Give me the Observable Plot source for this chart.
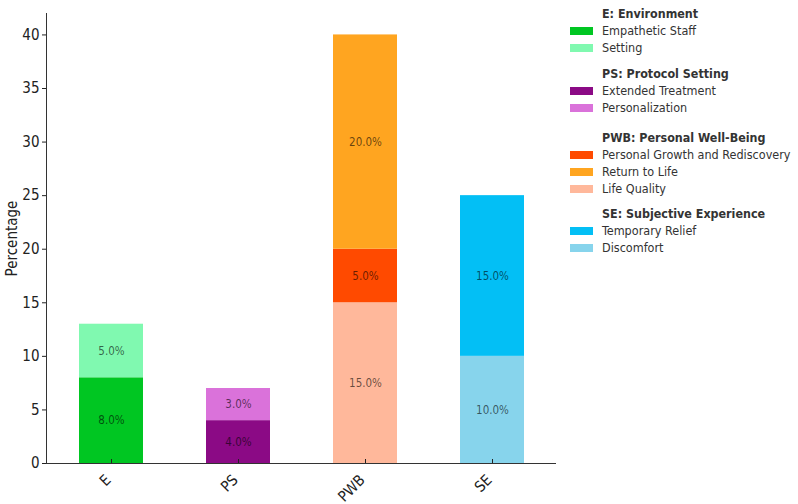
<!DOCTYPE html>
<html>
<head>
<meta charset="utf-8">
<script src="https://cdn.jsdelivr.net/npm/d3@7"></script>
<script src="https://cdn.jsdelivr.net/npm/@observablehq/plot@0.6"></script>
<style>
  html, body { margin: 0; padding: 0; background: #fff; }
  #wrap { position: relative; width: 798px; height: 504px; font-family: "DejaVu Sans Condensed", "DejaVu Sans", sans-serif; color: #333; }
  #chart { position: absolute; left: 0; top: 0; }
  .lg-title { position: absolute; font-weight: bold; font-size: 12.4px; line-height: 14px; white-space: nowrap; color: #333; }
  .lg-item { position: absolute; font-size: 12.5px; line-height: 14px; white-space: nowrap; color: #333; }
  .lg-sw { position: absolute; width: 23px; height: 8px; }
</style>
</head>
<body>
<div id="wrap"><div id="chart"></div><div id="legend"></div></div>
<script>
// ---- data ----
const categories = ["E", "PS", "PWB", "SE"];
const groupTitles = ["E: Environment", "PS: Protocol Setting", "PWB: Personal Well-Being", "SE: Subjective Experience"];
// stack order: bottom to top
const segCategory = ["E", "E", "PS", "PS", "PWB", "PWB", "PWB", "SE", "SE"];
const segNames = ["Empathetic Staff", "Setting", "Extended Treatment", "Personalization",
                  "Life Quality", "Personal Growth and Rediscovery", "Return to Life",
                  "Discomfort", "Temporary Relief"];
const segValues = [8, 5, 4, 3, 15, 5, 20, 10, 15];
const segColors = ["#00c622", "#80f9b0", "#8b0a85", "#da72da",
                   "#ffb89b", "#ff4a00", "#ffa520",
                   "#87d4ec", "#03bff5"];
// legend order per group
const legendOrder = [
  ["Empathetic Staff", "Setting"],
  ["Extended Treatment", "Personalization"],
  ["Personal Growth and Rediscovery", "Return to Life", "Life Quality"],
  ["Temporary Relief", "Discomfort"]
];
const yTicks = [0, 5, 10, 15, 20, 25, 30, 35, 40];

// ---- build stacked rows ----
const totals = {};
const rows = segNames.map((name, i) => {
  const cat = segCategory[i];
  const base = totals[cat] || 0;
  const top = base + segValues[i];
  totals[cat] = top;
  return { cat, name, value: segValues[i], y1: base, y2: top, mid: (base + top) / 2, color: segColors[i] };
});

const chart = Plot.plot({
  width: 560,
  height: 504,
  marginLeft: 46,
  marginRight: 4,
  marginTop: 13,
  marginBottom: 41,
  style: { fontFamily: "DejaVu Sans Condensed, DejaVu Sans, sans-serif", fontSize: "15px", color: "#222", background: "white" },
  x: { domain: categories, paddingInner: 0.5, paddingOuter: 0.25, label: null },
  y: { domain: [0, 42], label: "Percentage" },
  color: { type: "identity" },
  marks: [
    Plot.barY(rows, { x: "cat", y1: "y1", y2: "y2", fill: "color" }),
    Plot.text(rows, { x: "cat", y: "mid", text: d => d.value.toFixed(1) + "%", fill: "black", fillOpacity: 0.6, fontSize: 11.5 }),
    Plot.axisY({ ticks: yTicks, tickSize: 4, tickPadding: 3, fontSize: 15, label: "Percentage", labelAnchor: "center", labelArrow: "none", labelOffset: 40 }),
    Plot.axisX({ tickSize: -4, tickFormat: () => "", label: null }),
    Plot.axisX({ tickSize: 0, tickRotate: -45, tickPadding: 14, dx: -3, fontSize: 15, label: null }),
    Plot.ruleY([0], { stroke: "#333" }),
    Plot.frame({ anchor: "left", stroke: "#333" })
  ]
});
document.getElementById("chart").appendChild(chart);

// ---- legend ----
const legend = document.getElementById("legend");
const colorOf = Object.fromEntries(segNames.map((n, i) => [n, segColors[i]]));
const groupGaps = [0, 26, 30, 25];
let y = 7;
groupTitles.forEach((t, g) => {
  if (g > 0) y += groupGaps[g];
  const title = document.createElement("div");
  title.className = "lg-title";
  title.style.left = "602px";
  title.style.top = y + "px";
  title.textContent = t;
  legend.appendChild(title);
  legendOrder[g].forEach(name => {
    y += 17;
    const sw = document.createElement("div");
    sw.className = "lg-sw";
    sw.style.left = "570px";
    sw.style.top = (y + 3) + "px";
    sw.style.background = colorOf[name];
    legend.appendChild(sw);
    const it = document.createElement("div");
    it.className = "lg-item";
    it.style.left = "602px";
    it.style.top = y + "px";
    it.textContent = name;
    legend.appendChild(it);
  });
});
</script>
</body>
</html>
